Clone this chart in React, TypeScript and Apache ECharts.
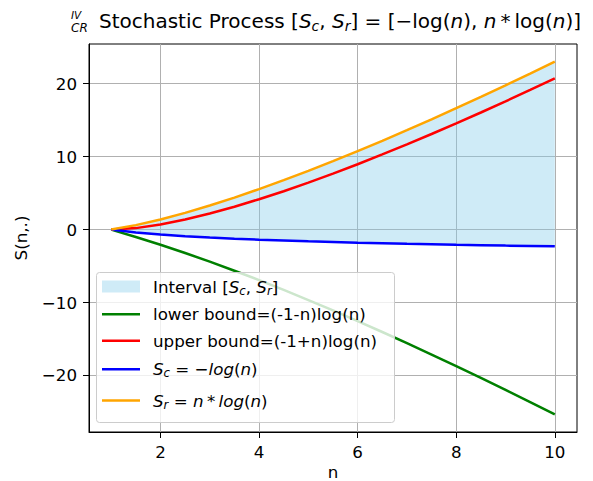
import React, { useEffect, useRef } from 'react';
import * as echarts from 'echarts';

// n values and series values
const N = [1, 1.5, 2, 2.5, 3, 3.5, 4, 4.5, 5, 5.5, 6, 6.5, 7, 7.5, 8, 8.5, 9, 9.5, 10];
const SC = [0, -0.41, -0.69, -0.92, -1.10, -1.25, -1.39, -1.50, -1.61, -1.70, -1.79, -1.87, -1.95, -2.01, -2.08, -2.14, -2.20, -2.25, -2.30];
const SR = [0, 0.61, 1.39, 2.29, 3.30, 4.38, 5.55, 6.77, 8.05, 9.38, 10.75, 12.17, 13.62, 15.11, 16.64, 18.19, 19.78, 21.39, 23.03];
const UPPER = [0, 0.20, 0.69, 1.37, 2.20, 3.13, 4.16, 5.26, 6.44, 7.67, 8.96, 10.30, 11.68, 13.10, 14.56, 16.05, 17.58, 19.14, 20.72];
const LOWER = [0, -1.01, -2.08, -3.21, -4.39, -5.64, -6.93, -8.27, -9.66, -11.08, -12.54, -14.04, -15.57, -17.13, -18.72, -20.33, -21.97, -23.64, -25.33];

const X_TICKS = [2, 4, 6, 8, 10];
const Y_TICKS = [-20, -10, 0, 10, 20];

const NAME_INTERVAL = 'Interval [Sc, Sr]';
const NAME_LOWER = 'lower bound=(-1-n)log(n)';
const NAME_UPPER = 'upper bound=(-1+n)log(n)';
const NAME_SC = 'Sc = -log(n)';
const NAME_SR = 'Sr = n*log(n)';

const LEGEND_RICH_TEXT: Record<string, string> = {
  [NAME_INTERVAL]: '{sp| }{t|Interval [}{i|S}{s|c}{t|, }{i|S}{s|r}{t|]}',
  [NAME_LOWER]: '{sp| }{t|lower bound=(-1-n)log(n)}',
  [NAME_UPPER]: '{sp| }{t|upper bound=(-1+n)log(n)}',
  [NAME_SC]: '{sp| }{i|S}{s|c}{t| = \u2212}{i|log}{t|(}{i|n}{t|)}',
  [NAME_SR]: '{sp| }{i|S}{s|r}{t| = }{i|n}{t|\u2009*\u2009}{i|log}{t|(}{i|n}{t|)}',
};

const F = 'DejaVu Sans';
const FILL = 'rgba(135,206,235,0.4)';
const FS = 16.7;

const fmtTick = (v: number) => (v < 0 ? '\u2212' + Math.abs(v) : String(v));

const legendRich = {
  t: { fontFamily: F, fontSize: FS, lineHeight: 22, color: '#000' },
  i: { fontFamily: F, fontSize: FS, lineHeight: 22, fontStyle: 'italic', color: '#000' },
  s: { fontFamily: F, fontSize: 11.7, fontStyle: 'italic', padding: [8, 0, 0, 0], color: '#000' },
  sp: { fontFamily: F, fontSize: FS, width: 8 },
};

const titleRich = {
  t: { fontFamily: F, fontSize: 20, lineHeight: 26, color: '#000', fontWeight: 'normal' },
  i: { fontFamily: F, fontSize: 20, lineHeight: 26, fontStyle: 'italic', color: '#000', fontWeight: 'normal' },
  s: { fontFamily: F, fontSize: 14, fontStyle: 'italic', padding: [10, 0, 0, 0], color: '#000', fontWeight: 'normal' },
};

const LEGEND_ROWS: { name: string; top: number; color: string; h: number }[] = [
  { name: NAME_INTERVAL, top: 278, color: FILL, h: 12 },
  { name: NAME_LOWER, top: 305.7, color: '#008000', h: 2.5 },
  { name: NAME_UPPER, top: 332.3, color: '#ff0000', h: 2.5 },
  { name: NAME_SC, top: 360.7, color: '#0000ff', h: 2.5 },
  { name: NAME_SR, top: 392, color: '#ffa500', h: 2.5 },
];

function pairs(ys: number[]) {
  return N.map((n, i) => [n, ys[i]]);
}

function buildOption() {
  const lineSeries = (name: string, ys: number[], color: string) => ({
    type: 'line',
    name,
    data: pairs(ys),
    symbol: 'none',
    showSymbol: false,
    color,
    lineStyle: { color, width: 2.5 },
    silent: true,
    z: 3,
  });
  const areaSeries = (name: string, ys: number[]) => ({
    type: 'line',
    name,
    data: pairs(ys),
    symbol: 'none',
    showSymbol: false,
    color: FILL,
    lineStyle: { width: 0, opacity: 0 },
    areaStyle: { color: FILL, opacity: 1, origin: 'auto' },
    silent: true,
    z: 1,
  });
  return {
    animation: false,
    backgroundColor: '#fff',
    title: {
      text: '{t|Stochastic Process }{t|[}{i|S}{s|c}{t|, }{i|S}{s|r}{t|] = [\u2212log(}{i|n}{t|), }{i|n}{t|\u2009*\u2009log(}{i|n}{t|)]}',
      left: 99,
      top: 8,
      padding: 0,
      textStyle: { rich: titleRich },
    },
    graphic: [
      {
        type: 'rect',
        z: 9,
        shape: { x: 96.5, y: 272.5, width: 298, height: 150, r: 3 },
        style: { fill: 'rgba(255,255,255,0.8)', stroke: '#cccccc', lineWidth: 1 },
      },
      {
        type: 'text',
        z: 9,
        x: 71,
        y: 15,
        style: { text: 'IV', fontFamily: F, fontSize: 10.5, fontStyle: 'italic', fill: '#000', verticalAlign: 'middle' },
      },
      {
        type: 'text',
        z: 9,
        x: 71,
        y: 27.5,
        style: { text: 'CR', fontFamily: F, fontSize: 12, fontStyle: 'italic', fill: '#000', verticalAlign: 'middle' },
      },
    ],
    legend: LEGEND_ROWS.map((r) => ({
      data: [{ name: r.name, icon: 'rect', itemStyle: { color: r.color, borderWidth: 0 } }],
      left: 102,
      top: r.top,
      padding: 0,
      itemWidth: 38,
      itemHeight: r.h,
      z: 10,
      selectedMode: false,
      formatter: (name: string) => LEGEND_RICH_TEXT[name],
      textStyle: { rich: legendRich },
    })),
    grid: {
      left: 89,
      right: 16,
      top: 44,
      bottom: 49,
      show: true,
      containLabel: false,
      outerBoundsMode: 'none',
      borderColor: '#000',
      borderWidth: 1,
      backgroundColor: 'transparent',
    },
    xAxis: {
      type: 'value',
      min: 0.55,
      max: 10.45,
      name: 'n',
      nameLocation: 'middle',
      nameGap: 31,
      nameMoveOverlap: false,
      nameTextStyle: { fontFamily: F, fontSize: FS, lineHeight: 17, color: '#000' },
      axisLine: { show: true, onZero: false, lineStyle: { color: '#000', width: 1 } },
      axisTick: { show: true, length: 6, lineStyle: { color: '#000' }, customValues: X_TICKS },
      axisLabel: { fontFamily: F, fontSize: FS, color: '#000', margin: 11, customValues: X_TICKS, formatter: fmtTick },
      splitLine: { show: true, lineStyle: { color: '#b0b0b0', width: 1 } },
    },
    yAxis: {
      type: 'value',
      min: -27.75,
      max: 25.44,
      name: 'S(n,.)',
      nameLocation: 'middle',
      nameGap: 60,
      nameTextStyle: { fontFamily: F, fontSize: FS, color: '#000' },
      axisLine: { show: true, onZero: false, lineStyle: { color: '#000', width: 1 } },
      axisTick: { show: true, length: 6, lineStyle: { color: '#000' }, customValues: Y_TICKS },
      axisLabel: { fontFamily: F, fontSize: FS, color: '#000', margin: 12, customValues: Y_TICKS, formatter: fmtTick },
      splitLine: { show: true, lineStyle: { color: '#b0b0b0', width: 1 } },
    },
    series: [
      areaSeries(NAME_INTERVAL, SR),
      areaSeries('_interval_lower_part', SC),
      lineSeries(NAME_LOWER, LOWER, '#008000'),
      lineSeries(NAME_UPPER, UPPER, '#ff0000'),
      lineSeries(NAME_SC, SC, '#0000ff'),
      lineSeries(NAME_SR, SR, '#ffa500'),
    ],
  };
}

export default function App() {
  const ref = useRef<HTMLDivElement>(null);
  useEffect(() => {
    if (!ref.current) return;
    const chart = echarts.init(ref.current, null, { renderer: 'svg' });
    chart.setOption(buildOption() as any);
    return () => chart.dispose();
  }, []);
  return <div ref={ref} style={{ position: 'absolute', left: 0, top: 0, width: 593, height: 481 }} />;
}
